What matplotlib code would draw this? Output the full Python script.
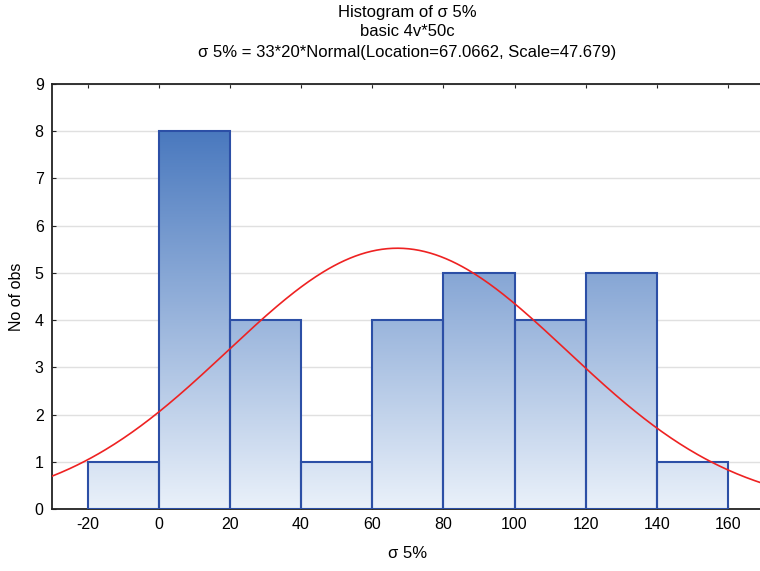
import numpy as np
import matplotlib
matplotlib.use('Agg')
import matplotlib.pyplot as plt
from matplotlib.colors import LinearSegmentedColormap

plt.rcParams['font.family'] = ['Liberation Sans', 'DejaVu Sans']
plt.rcParams['axes.unicode_minus'] = False

# ===== Data =====
bin_edges = [-20, 0, 20, 40, 60, 80, 100, 120, 140, 160]
counts = [1, 8, 4, 1, 4, 5, 4, 5, 1]
n_obs = 33
bin_width = 20
loc, scale = 67.0662, 47.679
x_ticks = [-20, 0, 20, 40, 60, 80, 100, 120, 140, 160]
y_ticks = list(range(0, 10))
title_lines = ["Histogram of σ 5%", "basic 4v*50c",
               "σ 5% = 33*20*Normal(Location=67.0662, Scale=47.679)"]

# ===== Plot =====
fig = plt.figure(figsize=(7.6, 5.71), dpi=100)
ax = fig.add_axes([52/760, 1-509/571, (763.6-52)/760, (509-84)/571])

cmap = LinearSegmentedColormap.from_list("blu", ["#eaf1fa", "#4676bd"])
grad = np.linspace(0, 1, 256).reshape(-1, 1)
bars = ax.bar(bin_edges[:-1], counts, width=bin_width, align='edge',
              facecolor='none', edgecolor='#2c4fa6', linewidth=1.5, zorder=3)
for b, c in zip(bars, counts):
    x0 = b.get_x()
    ax.imshow(grad[:int(256*c/8.2)+1], extent=(x0, x0+bin_width, 0, c), origin='lower',
              aspect='auto', cmap=cmap, vmin=0, vmax=1, zorder=2)
ax.set_xlim(-30, 170); ax.set_ylim(0, 9)

xs = np.linspace(-30, 170, 400)
ys = n_obs*bin_width*np.exp(-0.5*((xs-loc)/scale)**2)/(scale*np.sqrt(2*np.pi))
ax.plot(xs, ys, color='#ee2222', linewidth=1.2, zorder=4)

ax.set_yticks(y_ticks); ax.set_xticks(x_ticks)
ax.yaxis.grid(True, color='#e0e0e0', linewidth=1.0, zorder=0)
ax.set_axisbelow(True)
ax.tick_params(direction='in', length=3, labelsize=11.5, top=True, color='#222222', pad=6)
ax.spines['right'].set_visible(False)
for s in ['left', 'bottom', 'top']:
    ax.spines[s].set_linewidth(1.3); ax.spines[s].set_color('#222222')

ax.set_xlabel("σ 5%", fontsize=12, labelpad=10)
ax.set_ylabel("No of obs", fontsize=11.5, labelpad=8)
for i, t in enumerate(title_lines):
    fig.text(407/760, 1-(12+20*i)/571, t, ha='center', va='center', fontsize=12)

fig.savefig("out.png", dpi=100)
